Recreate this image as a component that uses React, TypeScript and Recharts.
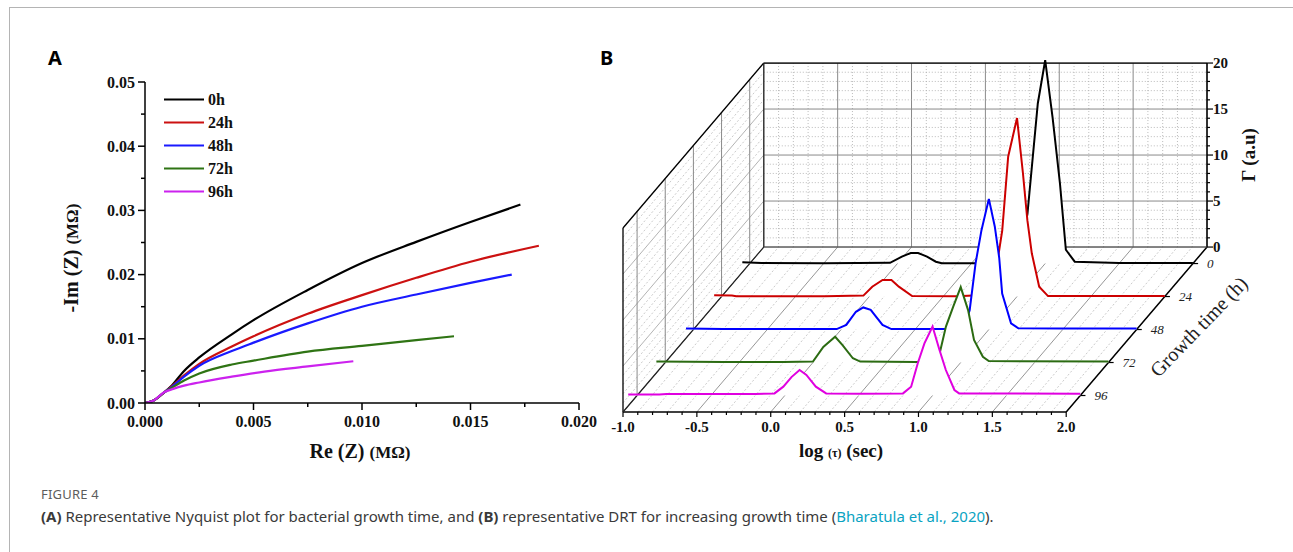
import React from 'react';
import { LineChart, Line, XAxis, YAxis, Legend, ComposedChart, Area, ReferenceLine } from 'recharts';

const SERIF = "'Liberation Serif', 'Times New Roman', serif";
const SANS = "'Noto Sans', 'Open Sans', sans-serif";

// ---------- Panel A: Nyquist plot, Re(Z) vs -Im(Z) in MΩ ----------
const nyq0h = [
  { x: 0, y: 0 }, { x: 0.0004, y: 0.0004 }, { x: 0.0009, y: 0.0017 }, { x: 0.0012, y: 0.0026 },
  { x: 0.0018, y: 0.0050 }, { x: 0.0025, y: 0.0071 }, { x: 0.004, y: 0.0107 }, { x: 0.005, y: 0.0129 },
  { x: 0.0075, y: 0.0176 }, { x: 0.01, y: 0.0218 }, { x: 0.0125, y: 0.0251 }, { x: 0.015, y: 0.0282 },
  { x: 0.0173, y: 0.0309 },
];
const nyq24h = [
  { x: 0, y: 0 }, { x: 0.0004, y: 0.0004 }, { x: 0.0009, y: 0.0017 }, { x: 0.0012, y: 0.0025 },
  { x: 0.0018, y: 0.0043 }, { x: 0.0025, y: 0.0061 }, { x: 0.004, y: 0.0088 }, { x: 0.005, y: 0.0104 },
  { x: 0.0075, y: 0.0139 }, { x: 0.01, y: 0.0168 }, { x: 0.0125, y: 0.0195 }, { x: 0.015, y: 0.022 },
  { x: 0.01815, y: 0.0245 },
];
const nyq48h = [
  { x: 0, y: 0 }, { x: 0.0004, y: 0.0004 }, { x: 0.0009, y: 0.0017 }, { x: 0.0012, y: 0.0024 },
  { x: 0.0018, y: 0.0041 }, { x: 0.0025, y: 0.0058 }, { x: 0.004, y: 0.0081 }, { x: 0.005, y: 0.0094 },
  { x: 0.0075, y: 0.0124 }, { x: 0.01, y: 0.015 }, { x: 0.0125, y: 0.0169 }, { x: 0.015, y: 0.0187 },
  { x: 0.0169, y: 0.02 },
];
const nyq72h = [
  { x: 0, y: 0 }, { x: 0.0004, y: 0.0004 }, { x: 0.0009, y: 0.0017 }, { x: 0.0012, y: 0.0023 },
  { x: 0.0018, y: 0.0035 }, { x: 0.0025, y: 0.0046 }, { x: 0.004, y: 0.006 }, { x: 0.005, y: 0.0066 },
  { x: 0.0075, y: 0.008 }, { x: 0.01, y: 0.0089 }, { x: 0.0125, y: 0.0098 }, { x: 0.01424, y: 0.0104 },
];
const nyq96h = [
  { x: 0, y: 0 }, { x: 0.0004, y: 0.0004 }, { x: 0.0009, y: 0.0017 }, { x: 0.0013, y: 0.0022 },
  { x: 0.0018, y: 0.0027 }, { x: 0.0025, y: 0.0032 }, { x: 0.004, y: 0.0041 }, { x: 0.0055, y: 0.0049 },
  { x: 0.0075, y: 0.0057 }, { x: 0.0096, y: 0.0065 },
];
const nyqNames = ['0h', '24h', '48h', '72h', '96h'];
const nyqColors = ['#000000', '#cc1111', '#1a1aff', '#2f7414', '#cc22ee'];
const nyqSeries = [nyq0h, nyq24h, nyq48h, nyq72h, nyq96h];

const reTicks = [0, 0.0025, 0.005, 0.0075, 0.01, 0.0125, 0.015, 0.0175, 0.02];
const imTicks = [0, 0.005, 0.01, 0.015, 0.02, 0.025, 0.03, 0.035, 0.04, 0.045, 0.05];

// ---------- Panel B: DRT waterfall, t = log(tau), g = Gamma ----------
const drt0h = [
  { t: -1.05, g: 0.15 }, { t: -0.92, g: 0.05 }, { t: -0.5, g: 0.02 }, { t: -0.05, g: 0.08 },
  { t: 0.03, g: 0.75 }, { t: 0.09, g: 1.15 }, { t: 0.14, g: 1.15 }, { t: 0.2, g: 0.75 },
  { t: 0.26, g: 0.2 }, { t: 0.3, g: 0.03 }, { t: 0.6, g: 0.03 }, { t: 0.78, g: 0.1 },
  { t: 0.84, g: 2.0 }, { t: 0.88, g: 5.4 }, { t: 0.95, g: 17.4 }, { t: 1.0, g: 22.1 },
  { t: 1.05, g: 15.9 }, { t: 1.1, g: 8.7 }, { t: 1.14, g: 1.5 }, { t: 1.2, g: 0.2 },
  { t: 1.5, g: 0.05 }, { t: 2.0, g: 0.05 },
];
const drt24h = [
  { t: -1.05, g: 0.15 }, { t: -0.93, g: 0.1 }, { t: -0.9, g: 0.02 }, { t: -0.3, g: 0.02 },
  { t: -0.04, g: 0.1 }, { t: 0.02, g: 1.07 }, { t: 0.09, g: 1.8 }, { t: 0.15, g: 1.8 },
  { t: 0.2, g: 1.07 }, { t: 0.29, g: 0.05 }, { t: 0.6, g: 0.02 }, { t: 0.8, g: 0.2 },
  { t: 0.85, g: 2.0 }, { t: 0.9, g: 7.2 }, { t: 0.94, g: 15.2 }, { t: 1.0, g: 19.4 },
  { t: 1.04, g: 13.4 }, { t: 1.07, g: 8.3 }, { t: 1.1, g: 4.7 }, { t: 1.15, g: 1.07 },
  { t: 1.21, g: 0.05 }, { t: 2.0, g: 0.05 },
];
const drt48h = [
  { t: -1.05, g: 0.1 }, { t: -0.8, g: 0.05 }, { t: -0.3, g: 0.05 }, { t: -0.03, g: 0.05 },
  { t: 0.035, g: 0.5 }, { t: 0.1, g: 1.93 }, { t: 0.15, g: 2.4 }, { t: 0.2, g: 2.13 },
  { t: 0.28, g: 0.5 }, { t: 0.34, g: 0.05 }, { t: 0.7, g: 0.05 }, { t: 0.83, g: 0.2 },
  { t: 0.87, g: 2.1 }, { t: 0.91, g: 7.2 }, { t: 0.95, g: 10.8 }, { t: 1.0, g: 14.2 },
  { t: 1.04, g: 11.2 }, { t: 1.07, g: 7.8 }, { t: 1.09, g: 3.9 }, { t: 1.15, g: 0.67 },
  { t: 1.2, g: 0.13 }, { t: 1.5, g: 0.1 }, { t: 2.0, g: 0.1 },
];
const drt72h = [
  { t: -1.06, g: 0.1 }, { t: -0.6, g: 0.05 }, { t: -0.2, g: 0.05 }, { t: 0.0, g: 0.1 },
  { t: 0.07, g: 1.7 }, { t: 0.15, g: 2.8 }, { t: 0.2, g: 1.9 }, { t: 0.27, g: 0.46 },
  { t: 0.32, g: 0.1 }, { t: 0.7, g: 0.05 }, { t: 0.8, g: 0.1 }, { t: 0.86, g: 1.17 },
  { t: 0.9, g: 3.9 }, { t: 0.95, g: 6.1 }, { t: 1.0, g: 8.2 }, { t: 1.05, g: 5.7 },
  { t: 1.09, g: 2.45 }, { t: 1.15, g: 0.63 }, { t: 1.19, g: 0.16 }, { t: 2.0, g: 0.1 },
];
const drt96h = [
  { t: -1.06, g: 0.1 }, { t: -0.85, g: 0.1 }, { t: -0.8, g: 0.15 }, { t: -0.2, g: 0.15 },
  { t: -0.07, g: 0.23 }, { t: -0.01, g: 0.96 }, { t: 0.045, g: 2.0 }, { t: 0.1, g: 2.77 },
  { t: 0.146, g: 2.23 }, { t: 0.21, g: 0.96 }, { t: 0.28, g: 0.23 }, { t: 0.5, g: 0.2 },
  { t: 0.8, g: 0.23 }, { t: 0.855, g: 0.96 }, { t: 0.9, g: 3.5 }, { t: 0.945, g: 5.67 },
  { t: 1.0, g: 7.5 }, { t: 1.047, g: 4.95 }, { t: 1.09, g: 2.77 }, { t: 1.148, g: 0.6 },
  { t: 1.18, g: 0.23 }, { t: 2.0, g: 0.2 },
];
const growthLabels = ['0', '24', '48', '72', '96'];
const growthDepth = [0.9, 0.7, 0.5, 0.3, 0.1]; // fraction of the depth axis
const drtColors = ['#000000', '#cc0000', '#0000ff', '#2b6b12', '#e000e0'];
const drtSeries = [drt0h, drt24h, drt48h, drt72h, drt96h];

const logTauTicks = Array.from({ length: 31 }, (_, i) => Math.round((-1 + i * 0.1) * 10) / 10);
const gammaTicks = Array.from({ length: 21 }, (_, i) => i);

// oblique projection of the depth axis, in data units
const DX = 0.953;
const DY = 17.93;

const isMult = (v: number, step: number) => Math.abs(v / step - Math.round(v / step)) < 1e-6;

const DRT_ROWS = drtSeries.map((pts, i) => ({
  label: growthLabels[i],
  depth: growthDepth[i],
  color: drtColors[i],
  data: pts.map((p) => ({ x: p.t + growthDepth[i] * DX, y: p.g + growthDepth[i] * DY })),
}));

type Seg = { id: string; a: [number, number]; b: [number, number]; stroke: string; w: number; dash?: string };

const gridSegs: Seg[] = [];
logTauTicks.forEach((t) => {
  const major = isMult(t, 0.5);
  gridSegs.push({ id: `floor${t}`, a: [t, 0], b: [t + DX, DY], stroke: major ? '#8a8a8a' : '#bdbdbd', w: major ? 0.9 : 0.8, dash: major ? undefined : '2 2' });
  gridSegs.push({ id: `back${t}`, a: [t + DX, DY], b: [t + DX, DY + 20], stroke: major ? '#8a8a8a' : '#aaaaaa', w: major ? 1 : 0.8, dash: major ? undefined : '1 2' });
});
gammaTicks.forEach((g) => {
  const major = g % 5 === 0;
  gridSegs.push({ id: `side${g}`, a: [-1, g], b: [-1 + DX, g + DY], stroke: major ? '#a0a0a0' : '#bdbdbd', w: 0.8, dash: major ? undefined : '2 2' });
  gridSegs.push({ id: `wallh${g}`, a: [-1 + DX, DY + g], b: [2 + DX, DY + g], stroke: major ? '#8a8a8a' : '#aaaaaa', w: major ? 1 : 0.8, dash: major ? undefined : '1 2' });
});
growthDepth.forEach((d) => {
  gridSegs.push({ id: `sidev${d}`, a: [-1 + d * DX, d * DY], b: [-1 + d * DX, 20 + d * DY], stroke: '#8a8a8a', w: 1 });
});

const edgeSegs: Seg[] = [
  { id: 'e1', a: [-1, 0], b: [2, 0], stroke: '#000', w: 1.5 },
  { id: 'e2', a: [2, 0], b: [2 + DX, DY], stroke: '#000', w: 1.5 },
  { id: 'e3', a: [2 + DX, DY], b: [2 + DX, DY + 20], stroke: '#000', w: 1.5 },
  { id: 'e4', a: [-1 + DX, DY + 20], b: [2 + DX, DY + 20], stroke: '#000', w: 1.3 },
  { id: 'e5', a: [-1, 20], b: [-1 + DX, DY + 20], stroke: '#000', w: 1.3 },
  { id: 'e6', a: [-1, 0], b: [-1, 20], stroke: '#000', w: 1.3 },
  { id: 'e7', a: [-1 + DX, DY], b: [-1 + DX, DY + 20], stroke: '#222', w: 1.2 },
  { id: 'e8', a: [-1, 0], b: [-1 + DX, DY], stroke: '#222', w: 1.2 },
  { id: 'e9', a: [-1 + DX, DY], b: [2 + DX, DY], stroke: '#444', w: 1.1 },
];

const tickText = { fontFamily: SERIF, fontWeight: 700, fill: '#111' };

const NyqXTick = (p: any) => {
  const v = p.payload.value;
  const major = isMult(v, 0.005);
  return (
    <g>
      <line x1={p.x} x2={p.x} y1={p.y} y2={p.y + (major ? 7 : 4)} stroke="#000" strokeWidth={1.5} />
      {major && (
        <text x={p.x} y={p.y + 24} textAnchor="middle" fontSize={16} {...tickText}>{v.toFixed(3)}</text>
      )}
    </g>
  );
};

const NyqYTick = (p: any) => {
  const v = p.payload.value;
  const major = isMult(v, 0.01);
  return (
    <g>
      <line x1={p.x} x2={p.x - (major ? 7 : 4)} y1={p.y} y2={p.y} stroke="#000" strokeWidth={1.5} />
      {major && (
        <text x={p.x - 10} y={p.y + 5.5} textAnchor="end" fontSize={16} {...tickText}>{v.toFixed(2)}</text>
      )}
    </g>
  );
};

const DrtXTick = (p: any) => {
  const v = p.payload.value;
  const major = isMult(v, 0.5);
  return (
    <g>
      <line x1={p.x} x2={p.x} y1={p.y} y2={p.y + (major ? 5 : 3)} stroke="#000" strokeWidth={1.2} />
      {major && (
        <text x={p.x} y={p.y + 20} textAnchor="middle" fontSize={15} {...tickText}>{v.toFixed(1)}</text>
      )}
    </g>
  );
};

const DrtYTick = (p: any) => {
  const g = Math.round(p.payload.value - DY);
  const major = g % 5 === 0;
  return (
    <g>
      <line x1={p.x} x2={p.x + (major ? 6 : 3)} y1={p.y} y2={p.y} stroke="#000" strokeWidth={1.2} />
      {major && (
        <text x={p.x + 6} y={p.y + 5} textAnchor="start" fontSize={15} {...tickText}>{g}</text>
      )}
    </g>
  );
};

const NyqLegend = () => (
  <div>
    {nyqNames.map((n, i) => (
      <div key={n} style={{ display: 'flex', alignItems: 'center', height: 23 }}>
        <svg width={44} height={23}>
          <line x1={0} x2={40} y1={11.5} y2={11.5} stroke={nyqColors[i]} strokeWidth={2} />
        </svg>
        <span style={{ fontFamily: SERIF, fontWeight: 700, fontSize: 16, color: '#111' }}>{n}</span>
      </div>
    ))}
  </div>
);

const abs = (left: number, top: number, extra: React.CSSProperties = {}): React.CSSProperties => ({
  position: 'absolute', left, top, whiteSpace: 'nowrap', ...extra,
});

export default function App() {
  return (
    <div style={{ position: 'relative', width: 1293, height: 552, background: '#fff', overflow: 'hidden' }}>
      <style>{'body{margin:0}'}</style>
      <div style={{ position: 'absolute', left: 9, top: 7, width: 1284, height: 1, background: '#b4b4b4' }} />
      <div style={{ position: 'absolute', left: 9, top: 7, width: 1, height: 545, background: '#b4b4b4' }} />

      {/* Panel A */}
      <div style={abs(0, 0)}>
        <LineChart width={620} height={480} margin={{ top: 82, right: 41, bottom: 47, left: 85 }}>
          <XAxis
            dataKey="x" type="number" domain={[0, 0.02]} ticks={reTicks} interval={0}
            allowDataOverflow height={30} tickSize={0} tickMargin={0}
            axisLine={{ stroke: '#000', strokeWidth: 1.5 }} tickLine={false} tick={(p: any) => <NyqXTick {...p} />}
          />
          <YAxis
            type="number" domain={[0, 0.05]} ticks={imTicks} interval={0}
            allowDataOverflow width={60} tickSize={0} tickMargin={0}
            axisLine={{ stroke: '#000', strokeWidth: 1.5 }} tickLine={false} tick={(p: any) => <NyqYTick {...p} />}
          />
          <Legend
            layout="vertical" align="center" verticalAlign="middle"
            wrapperStyle={{ left: 164, top: 88, width: 80 }}
            content={() => <NyqLegend />}
          />
          {nyqSeries.map((d, i) => (
            <Line
              key={nyqNames[i]} name={nyqNames[i]} data={d} dataKey="y" type="monotone"
              stroke={nyqColors[i]} strokeWidth={2.2} dot={false} activeDot={false} isAnimationActive={false}
            />
          ))}
        </LineChart>
      </div>
      <div style={abs(48, 44, { fontFamily: SANS, fontWeight: 700, fontSize: 20, color: '#000' })}>A</div>
      <div style={abs(71, 258, { transform: 'translate(-50%,-50%) rotate(-90deg)', fontFamily: SERIF, fontWeight: 700, fontSize: 20, color: '#111' })}>
        -Im (Z) <span style={{ fontSize: 17 }}>(MΩ)</span>
      </div>
      <div style={abs(360, 451, { transform: 'translate(-50%,-50%)', fontFamily: SERIF, fontWeight: 700, fontSize: 20, color: '#111' })}>
        Re (Z) <span style={{ fontSize: 17 }}>(MΩ)</span>
      </div>

      {/* Panel B */}
      <div style={abs(590, 40)}>
        <ComposedChart width={700} height={440} margin={{ top: 17.8, right: 43, bottom: 38, left: 33 }}>
          <XAxis
            dataKey="x" type="number" domain={[-1, 2 + DX]} ticks={logTauTicks} interval={0}
            allowDataOverflow height={30} tickSize={0} tickMargin={0}
            axisLine={false} tickLine={false} tick={(p: any) => <DrtXTick {...p} />}
          />
          <YAxis
            orientation="right" type="number" domain={[0, 38.5]} ticks={gammaTicks.map((g) => g + DY)} interval={0}
            allowDataOverflow width={40} tickSize={0} tickMargin={0}
            axisLine={false} tickLine={false} tick={(p: any) => <DrtYTick {...p} />}
          />
          {gridSegs.map((s) => (
            <ReferenceLine
              key={s.id} segment={[{ x: s.a[0], y: s.a[1] }, { x: s.b[0], y: s.b[1] }]}
              stroke={s.stroke} strokeWidth={s.w} strokeDasharray={s.dash} ifOverflow="visible" zIndex={10}
            />
          ))}
          {edgeSegs.map((s) => (
            <ReferenceLine
              key={s.id} segment={[{ x: s.a[0], y: s.a[1] }, { x: s.b[0], y: s.b[1] }]}
              stroke={s.stroke} strokeWidth={s.w} ifOverflow="visible" zIndex={20}
            />
          ))}
          {DRT_ROWS.map((r) => (
            <ReferenceLine
              key={`gt${r.label}`}
              segment={[{ x: 2 + r.depth * DX, y: r.depth * DY }, { x: 2 + r.depth * DX + 0.035, y: r.depth * DY }]}
              stroke="#000" strokeWidth={1.2} ifOverflow="visible" zIndex={20}
              label={{ value: r.label, position: 'right', offset: 9, fill: '#222', fontSize: 13, fontStyle: 'italic', fontFamily: SERIF }}
            />
          ))}
          {DRT_ROWS.map((r, i) => (
            <Area
              key={r.label} data={r.data} dataKey="y" type="linear" baseValue={r.depth * DY}
              stroke={r.color} strokeWidth={2} fill="#ffffff" fillOpacity={1}
              dot={false} activeDot={false} isAnimationActive={false} zIndex={101 + i}
            />
          ))}
        </ComposedChart>
      </div>
      <div style={abs(600, 44, { fontFamily: SANS, fontWeight: 700, fontSize: 20, color: '#000' })}>B</div>
      <div style={abs(841, 451, { transform: 'translate(-50%,-50%)', fontFamily: SERIF, fontWeight: 700, fontSize: 19, color: '#111' })}>
        log <span style={{ fontSize: 12 }}>(τ)</span> (sec)
      </div>
      <div style={abs(1249, 155, { transform: 'translate(-50%,-50%) rotate(-90deg)', fontFamily: SERIF, fontWeight: 700, fontSize: 19, color: '#111' })}>
        Γ (a.u)
      </div>
      <div style={abs(1199, 327, { transform: 'translate(-50%,-50%) rotate(-46deg)', fontFamily: SERIF, fontSize: 20, color: '#222' })}>
        Growth time (h)
      </div>

      {/* Caption */}
      <div style={abs(41, 485, { fontFamily: SANS, fontSize: 13, color: '#5c5c5c', letterSpacing: 0.2 })}>FIGURE 4</div>
      <div style={abs(41, 506, { fontFamily: SANS, fontSize: 15, color: '#3a3a3a' })}>
        <b>(A)</b> Representative Nyquist plot for bacterial growth time, and <b>(B)</b> representative DRT for increasing growth time (
        <span style={{ color: '#0aa3c2' }}>Bharatula et al., 2020</span>).
      </div>
    </div>
  );
}
